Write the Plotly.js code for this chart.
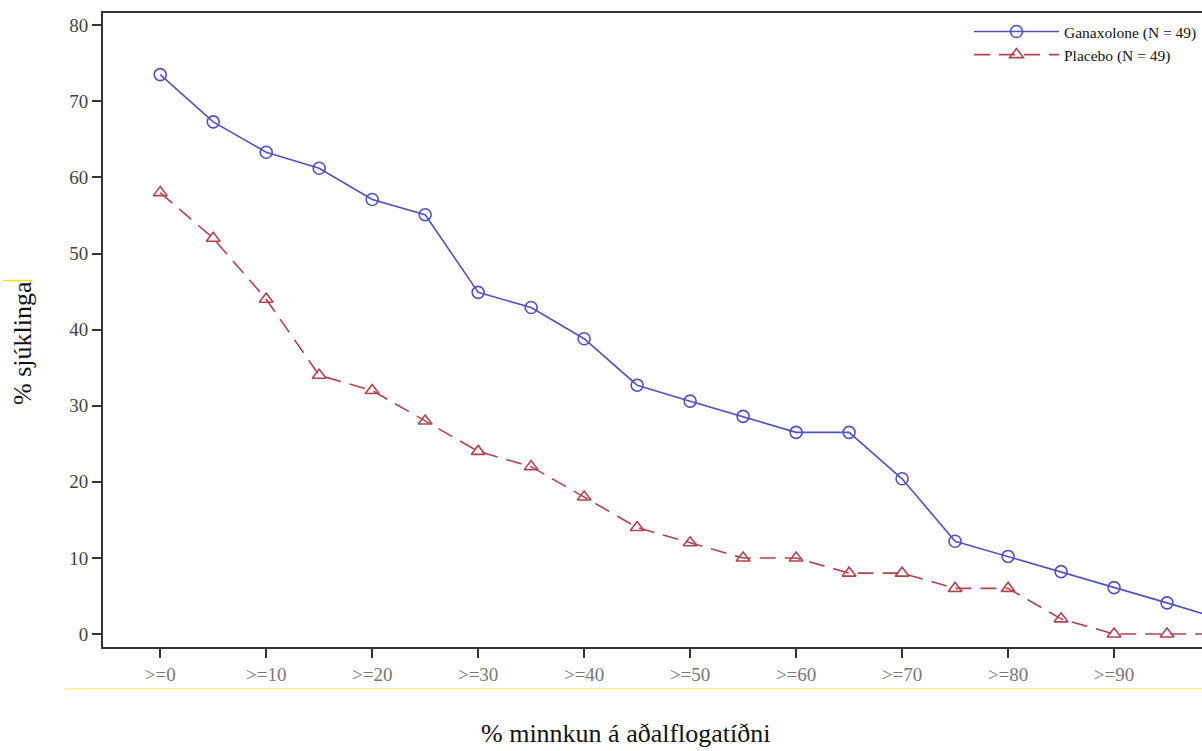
<!DOCTYPE html>
<html>
<head>
<meta charset="utf-8">
<script src="https://cdn.plot.ly/plotly-3.0.1.min.js"></script>
<style>html,body{margin:0;padding:0;background:#fff;}#chart{width:1202px;height:751px;}</style>
</head>
<body>
<div id="chart"></div>
<script>
const thresholds = [0,5,10,15,20,25,30,35,40,45,50,55,60,65,70,75,80,85,90,95,100];
const ganaxolone = [73.5,67.3,63.3,61.2,57.1,55.1,44.9,42.9,38.8,32.7,30.6,28.6,26.5,26.5,20.4,12.2,10.2,8.2,6.1,4.1,2.0];
const placebo = [58,52,44,34,32,28,24,22,18,14,12,10,10,8,8,6,6,2,0,0,0];
const tickVals = [0,10,20,30,40,50,60,70,80,90];
const tickText = [">=0",">=10",">=20",">=30",">=40",">=50",">=60",">=70",">=80",">=90"];
const yTicks = [0,10,20,30,40,50,60,70,80];
const xTitle = "% minnkun á aðalflogatíðni";
const yTitle = "% sjúklinga";

const serif = "'Liberation Serif', 'Times New Roman', serif";
const traces = [
  {x: thresholds, y: ganaxolone, name: "Ganaxolone (N = 49)", mode: "lines+markers",
   line: {color: "#5050c8", width: 1.6},
   marker: {symbol: "circle-open", size: 12, color: "#5050c8", line: {width: 1.6}}},
  {x: thresholds, y: placebo, name: "Placebo (N = 49)", mode: "lines+markers",
   line: {color: "#b5424f", width: 1.6, dash: "16px,9px"},
   marker: {symbol: "triangle-up-open", size: 12, color: "#b5424f", line: {width: 1.6}}}
];
const layout = {
  width: 1202, height: 751,
  margin: {l: 103, r: 0, t: 13, b: 104},
  paper_bgcolor: "#fff", plot_bgcolor: "#fff",
  font: {family: serif, color: "#333"},
  showlegend: true,
  legend: {x: 0.788, y: 0.997, xanchor: "left", yanchor: "top", bgcolor: "rgba(0,0,0,0)",
           font: {family: serif, size: 15.5, color: "#111"}, itemwidth: 85, tracegroupgap: 0},
  xaxis: {range: [-5.4, 98.3], tickvals: tickVals, ticktext: tickText, showgrid: false, zeroline: false,
          showline: true, linecolor: "#333", linewidth: 2, mirror: true,
          ticks: "outside", ticklen: 9, tickwidth: 2, tickcolor: "#333",
          tickfont: {family: serif, size: 19, color: "#777"}},
  yaxis: {range: [-1.7, 81.6], tickvals: yTicks, showgrid: false, zeroline: false,
          showline: true, linecolor: "#333", linewidth: 2,
          ticks: "outside", ticklen: 9, tickwidth: 2, tickcolor: "#333",
          tickfont: {family: serif, size: 19, color: "#444"}},
  annotations: [
    {text: xTitle, xref: "paper", yref: "paper", x: (626 - 103) / 1099, y: -(733 - 647) / 634,
     xanchor: "center", yanchor: "middle", showarrow: false,
     font: {family: serif, size: 26, color: "#111"}},
    {text: yTitle, xref: "paper", yref: "paper", x: -(103 - 22) / 1099, y: (647 - 343) / 634,
     xanchor: "center", yanchor: "middle", showarrow: false, textangle: -90,
     font: {family: serif, size: 26, color: "#111"}}
  ],
  shapes: [
    {type: "line", xref: "paper", yref: "paper", x0: -0.035, x1: 1, y0: -0.066, y1: -0.066,
     line: {color: "#f4f08a", width: 1.5}},
    {type: "line", xref: "paper", yref: "paper", x0: -0.091, x1: -0.064, y0: 0.578, y1: 0.578,
     line: {color: "#f0e020", width: 1.5}}
  ]
};
Plotly.newPlot("chart", traces, layout, {displayModeBar: false, staticPlot: true});
</script>
</body>
</html>
